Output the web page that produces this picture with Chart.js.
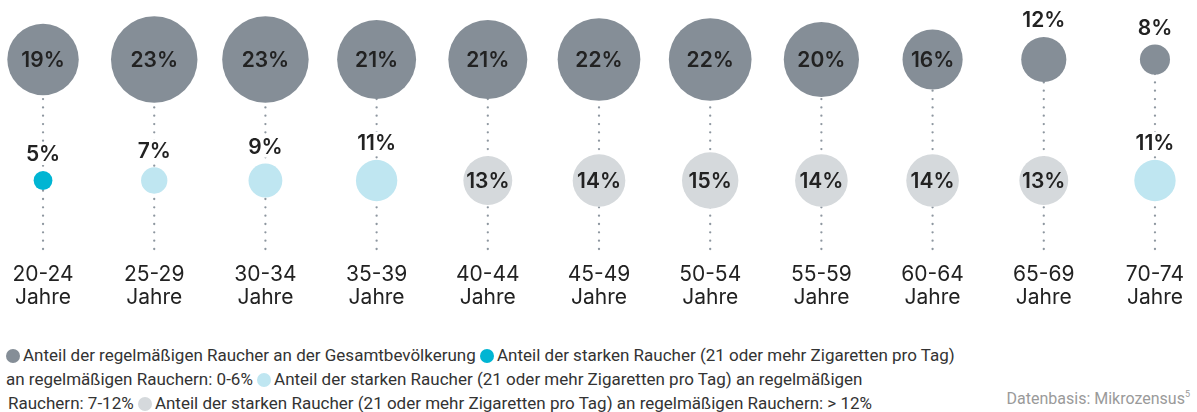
<!DOCTYPE html>
<html>
<head>
<meta charset="utf-8">
<script src="https://cdn.jsdelivr.net/npm/chart.js@4"></script>
<style>
  html, body { margin: 0; padding: 0; background: #fff; }
  #wrap { position: relative; width: 1197px; height: 412px; overflow: hidden; }
  #c { position: absolute; left: 0; top: 0; }
  #legend { position: absolute; left: 6px; top: 343px; width: 1000px; font: 17px Roboto, sans-serif; line-height: 24px; color: #333; white-space: nowrap; }
  .dot { display: inline-block; width: 14px; height: 14px; border-radius: 50%; vertical-align: -2px; margin-right: 3px; }
  .ind { display: inline-block; width: 2px; }
  #src { position: absolute; right: 7px; top: 387px; font: 16px Roboto, sans-serif; color: #9a9a9a; line-height: 24px; }
  #src sup { font-size: 9px; vertical-align: 7px; line-height: 0; }
</style>
</head>
<body>
<div id="wrap">
  <canvas id="c" width="1197" height="330"></canvas>
  <div id="legend"></div>
  <div id="src">Datenbasis: Mikrozensus<sup>5</sup></div>
</div>
<script>
// ---- data ----
const categories = ['20-24', '25-29', '30-34', '35-39', '40-44', '45-49', '50-54', '55-59', '60-64', '65-69', '70-74'];
const unitLabel = 'Jahre';
const regularSmokers = [19, 23, 23, 21, 21, 22, 22, 20, 16, 12, 8];
const heavySmokers = [5, 7, 9, 11, 13, 14, 15, 14, 14, 13, 11];
const legendLabels = [
  'Anteil der regelmäßigen Raucher an der Gesamtbevölkerung',
  'Anteil der starken Raucher (21 oder mehr Zigaretten pro Tag) an regelmäßigen Rauchern: 0-6%',
  'Anteil der starken Raucher (21 oder mehr Zigaretten pro Tag) an regelmäßigen Rauchern: 7-12%',
  'Anteil der starken Raucher (21 oder mehr Zigaretten pro Tag) an regelmäßigen Rauchern: > 12%'
];

// ---- styling ----
const C_REG = '#858e97', C_LOW = '#00b5d3', C_MID = '#bfe6f1', C_HIGH = '#d5d9dc';
const R_PER_PCT = 1.88;
const ROW_TOP = 2, ROW_BOTTOM = 1, LINE_END = 0.434;
const INSIDE_MIN = 13;

function heavyColor(v) { return v <= 6 ? C_LOW : (v <= 12 ? C_MID : C_HIGH); }

// legend (HTML text, wrapped as in the reference)
(function () {
  const cols = [C_REG, C_LOW, C_MID, C_HIGH];
  const d = (i) => '<span class="dot" style="background:' + cols[i] + '"></span>';
  const esc = (s) => s.replace(/&/g, '&amp;').replace(/</g, '&lt;').replace(/>/g, '&gt;');
  const split1 = legendLabels[1].indexOf(' an regelmäßigen');
  const l1a = legendLabels[1].slice(0, split1), l1b = legendLabels[1].slice(split1 + 1);
  const split2 = legendLabels[2].indexOf('Rauchern:');
  const l2a = legendLabels[2].slice(0, split2 - 1), l2b = legendLabels[2].slice(split2);
  document.getElementById('legend').innerHTML =
    d(0) + esc(legendLabels[0]) + ' ' + d(1) + esc(l1a) + '<br>' +
    esc(l1b) + ' ' + d(2) + esc(l2a) + '<br><span class="ind"></span>' +
    esc(l2b) + ' ' + d(3) + esc(legendLabels[3]);
})();

const linesPlugin = {
  id: 'lines',
  beforeDatasetsDraw(chart) {
    const { ctx, scales: { x, y } } = chart;
    ctx.save();
    ctx.fillStyle = '#8d969f';
    const yTop = y.getPixelForValue(ROW_TOP), yBot = y.getPixelForValue(LINE_END);
    categories.forEach((c, i) => {
      const px = x.getPixelForValue(i);
      for (let py = yBot; py > yTop; py -= 8.33) {
        ctx.beginPath(); ctx.arc(px, py, 1.15, 0, Math.PI * 2); ctx.fill();
      }
    });
    ctx.restore();
  },
  afterDatasetsDraw(chart) {
    const { ctx, scales: { x, y } } = chart;
    ctx.save();
    ctx.textAlign = 'center';
    ctx.textBaseline = 'middle';
    ctx.font = '600 21px Inter, sans-serif';
    chart.data.datasets.forEach((ds, di) => {
      const meta = chart.getDatasetMeta(di);
      meta.data.forEach((el, i) => {
        const v = ds.data[i].v;
        const txt = v + '%';
        let ty = el.y;
        if (v < INSIDE_MIN) {
          ty = el.y - el.options.radius - 17;
          const w = ctx.measureText(txt).width;
          ctx.fillStyle = '#fff';
          ctx.fillRect(el.x - w / 2 - 2, ty - 11, w + 4, 22);
        }
        ctx.fillStyle = '#222';
        ctx.fillText(txt, el.x, ty + 1);
      });
    });
    // category labels
    ctx.font = '400 21px Inter, sans-serif';
    ctx.fillStyle = '#222';
    const yb = y.getPixelForValue(LINE_END);
    categories.forEach((c, i) => {
      const px = x.getPixelForValue(i);
      ctx.fillText(c, px, yb + 26);
      ctx.fillText(unitLabel, px, yb + 49);
    });
    ctx.restore();
  }
};

new Chart(document.getElementById('c'), {
  type: 'bubble',
  data: {
    datasets: [
      {
        label: legendLabels[0],
        data: regularSmokers.map((v, i) => ({ x: i, y: ROW_TOP, v })),
        backgroundColor: C_REG,
        borderWidth: 0,
        radius: (ctx) => ctx.raw.v * R_PER_PCT,
        hoverRadius: 0,
        clip: false
      },
      {
        label: 'starke Raucher',
        data: heavySmokers.map((v, i) => ({ x: i, y: ROW_BOTTOM, v })),
        backgroundColor: (ctx) => heavyColor(ctx.raw.v),
        borderWidth: 0,
        radius: (ctx) => ctx.raw.v * R_PER_PCT,
        hoverRadius: 0,
        clip: false
      }
    ]
  },
  options: {
    responsive: false,
    devicePixelRatio: 1,
    animation: false,
    events: [],
    layout: { padding: 0, autoPadding: false },
    scales: {
      x: { type: 'linear', min: -0.387, max: 10.378, display: false },
      y: { type: 'linear', min: -0.2355, max: 2.4917, display: false }
    },
    plugins: { legend: { display: false }, tooltip: { enabled: false } }
  },
  plugins: [linesPlugin]
});
</script>
</body>
</html>
